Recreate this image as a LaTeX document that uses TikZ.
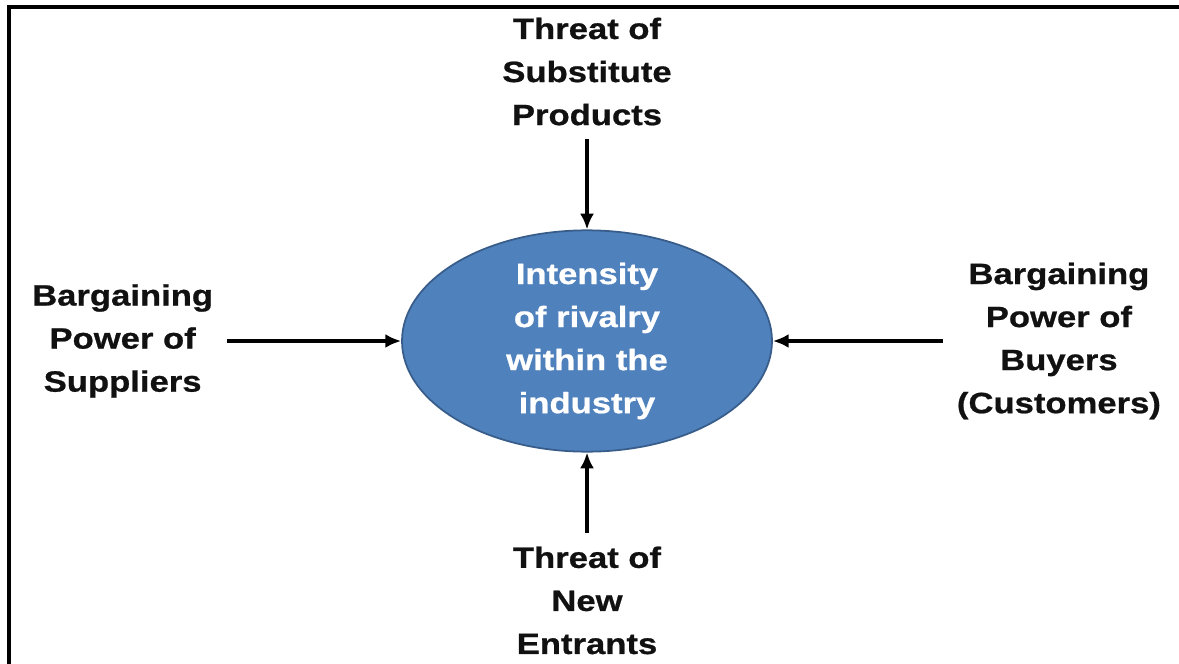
\documentclass[tikz,border=0pt]{standalone}
\usepackage{fontspec}
\setmainfont[FakeStretch=1.18, BoldFeatures={FakeBold=0.8}]{Liberation Sans}
\usetikzlibrary{positioning, arrows.meta, shapes.geometric}

\definecolor{hubfill}{RGB}{79,129,189}
\definecolor{hubline}{RGB}{56,93,138}
\definecolor{ink}{RGB}{17,17,17}

\begin{document}
\begin{tikzpicture}[
  >={Latex[length=9pt, width=8pt]}, line width=2pt,
  label font/.style = {font=\fontsize{16.7}{24.5}\selectfont\bfseries},
  hub/.style   = {ellipse, draw=hubline, line width=1pt, fill=hubfill,
                  text=white, label font, align=center, inner sep=0pt,
                  minimum width=7.4cm, minimum height=4.4cm},
  force/.style = {label font, text=ink, align=center, inner sep=7pt},
]
  \useasboundingbox (0,0) rectangle (23.58,-13.28);
  \draw[line width=2.4pt] (0.18,-13.5) -- (0.18,-0.14) -- (23.8,-0.14);

  \node[hub] (rivalry) at (11.74,-6.82)
    {Intensity\\of rivalry\\within the\\industry};

  \node[force, above=1.8cm of rivalry]  (substitutes) {Threat of\\Substitute\\Products};
  \node[force, below=1.6cm of rivalry]  (entrants)    {Threat of\\New\\Entrants};
  \node[force, left=3.48cm of rivalry]  (suppliers)   {Bargaining\\Power of\\Suppliers};
  \node[force, right=3.4cm of rivalry]  (buyers)      {Bargaining\\Power of\\Buyers\\(Customers)};

  \draw[->] (substitutes) -- (rivalry);
  \draw[->] (entrants)    -- (rivalry);
  \draw[->] (suppliers)   -- (rivalry);
  \draw[->] (buyers)      -- (rivalry);
\end{tikzpicture}
\end{document}
